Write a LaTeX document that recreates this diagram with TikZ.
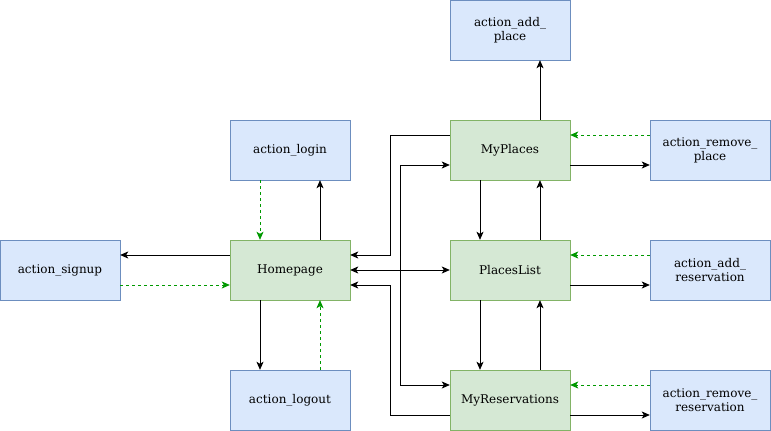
\documentclass[tikz,border=0pt]{standalone}
\usepackage{fontspec}
\setmainfont{DejaVu Serif}
\usetikzlibrary{arrows.meta}
\definecolor{bfill}{HTML}{DAE8FC}
\definecolor{bdraw}{HTML}{6C8EBF}
\definecolor{gfill}{HTML}{D5E8D4}
\definecolor{gdraw}{HTML}{82B366}
\definecolor{garrow}{HTML}{009900}
\begin{document}
\begin{tikzpicture}[x=1pt,y=-1pt,
  box/.style={minimum width=120pt,minimum height=60pt,inner sep=0pt,align=center,font=\fontsize{12pt}{14pt}\selectfont},
  actbox/.style={box,fill=bfill,draw=bdraw},
  pagebox/.style={box,fill=gfill,draw=gdraw},
  tip/.style={Stealth[length=8pt,width=7pt,inset=2pt]},
  conn/.style={draw=black,line width=0.8pt,-{Stealth[length=8pt,width=7pt,inset=2pt]}},
  back/.style={draw=garrow,line width=0.8pt,dash pattern=on 3pt off 3pt,-{Stealth[length=8pt,width=7pt,inset=2pt]}},
  both/.style={draw=black,line width=0.8pt,{Stealth[length=8pt,width=7pt,inset=2pt]}-{Stealth[length=8pt,width=7pt,inset=2pt]}}]
\useasboundingbox (0,0) rectangle (771,431);
\node[actbox] (addplace) at (510,30) {action\_add\_\\place};
\node[actbox] (login) at (290,150) {action\_login};
\node[pagebox] (myplaces) at (510,150) {MyPlaces};
\node[actbox] (removeplace) at (710,150) {action\_remove\_\\place};
\node[actbox] (signup) at (60,270) {action\_signup};
\node[pagebox] (home) at (290,270) {Homepage};
\node[pagebox] (placeslist) at (510,270) {PlacesList};
\node[actbox] (addres) at (710,270) {action\_add\_\\reservation};
\node[actbox] (logout) at (290,400) {action\_logout};
\node[pagebox] (myres) at (510,400) {MyReservations};
\node[actbox] (removeres) at (710,400) {action\_remove\_\\reservation};
\coordinate (hx) at (400,270);
% Homepage and actions
\draw[conn] (home.north -| 320,0) -- (login.south -| 320,0);
\draw[back] (login.south -| 260,0) -- (home.north -| 260,0);
\draw[conn] (home.south -| 260,0) -- (logout.north -| 260,0);
\draw[back] (logout.north -| 320,0) -- (home.south -| 320,0);
\draw[conn] (home.west |- 0,255) -- (signup.east |- 0,255);
\draw[back] (signup.east |- 0,285) -- (home.west |- 0,285);
% Homepage and pages
\draw[both] (home.east) -- (placeslist.west);
\draw[conn] (hx) |- (myplaces.west |- 0,165);
\draw[conn] (hx) |- (myres.west |- 0,385);
\draw[conn] (myplaces.west |- 0,135) -| (390,255) -- (home.east |- 0,255);
\draw[conn] (myres.west |- 0,415) -| (390,285) -- (home.east |- 0,285);
% vertical page links
\draw[conn] (myplaces.north -| 540,0) -- (addplace.south -| 540,0);
\draw[conn] (myplaces.south -| 480,0) -- (placeslist.north -| 480,0);
\draw[conn] (placeslist.north -| 540,0) -- (myplaces.south -| 540,0);
\draw[conn] (placeslist.south -| 480,0) -- (myres.north -| 480,0);
\draw[conn] (myres.north -| 540,0) -- (placeslist.south -| 540,0);
% right actions
\draw[back] (removeplace.west |- 0,135) -- (myplaces.east |- 0,135);
\draw[conn] (myplaces.east |- 0,165) -- (removeplace.west |- 0,165);
\draw[back] (addres.west |- 0,255) -- (placeslist.east |- 0,255);
\draw[conn] (placeslist.east |- 0,285) -- (addres.west |- 0,285);
\draw[back] (removeres.west |- 0,385) -- (myres.east |- 0,385);
\draw[conn] (myres.east |- 0,415) -- (removeres.west |- 0,415);
\end{tikzpicture}
\end{document}
